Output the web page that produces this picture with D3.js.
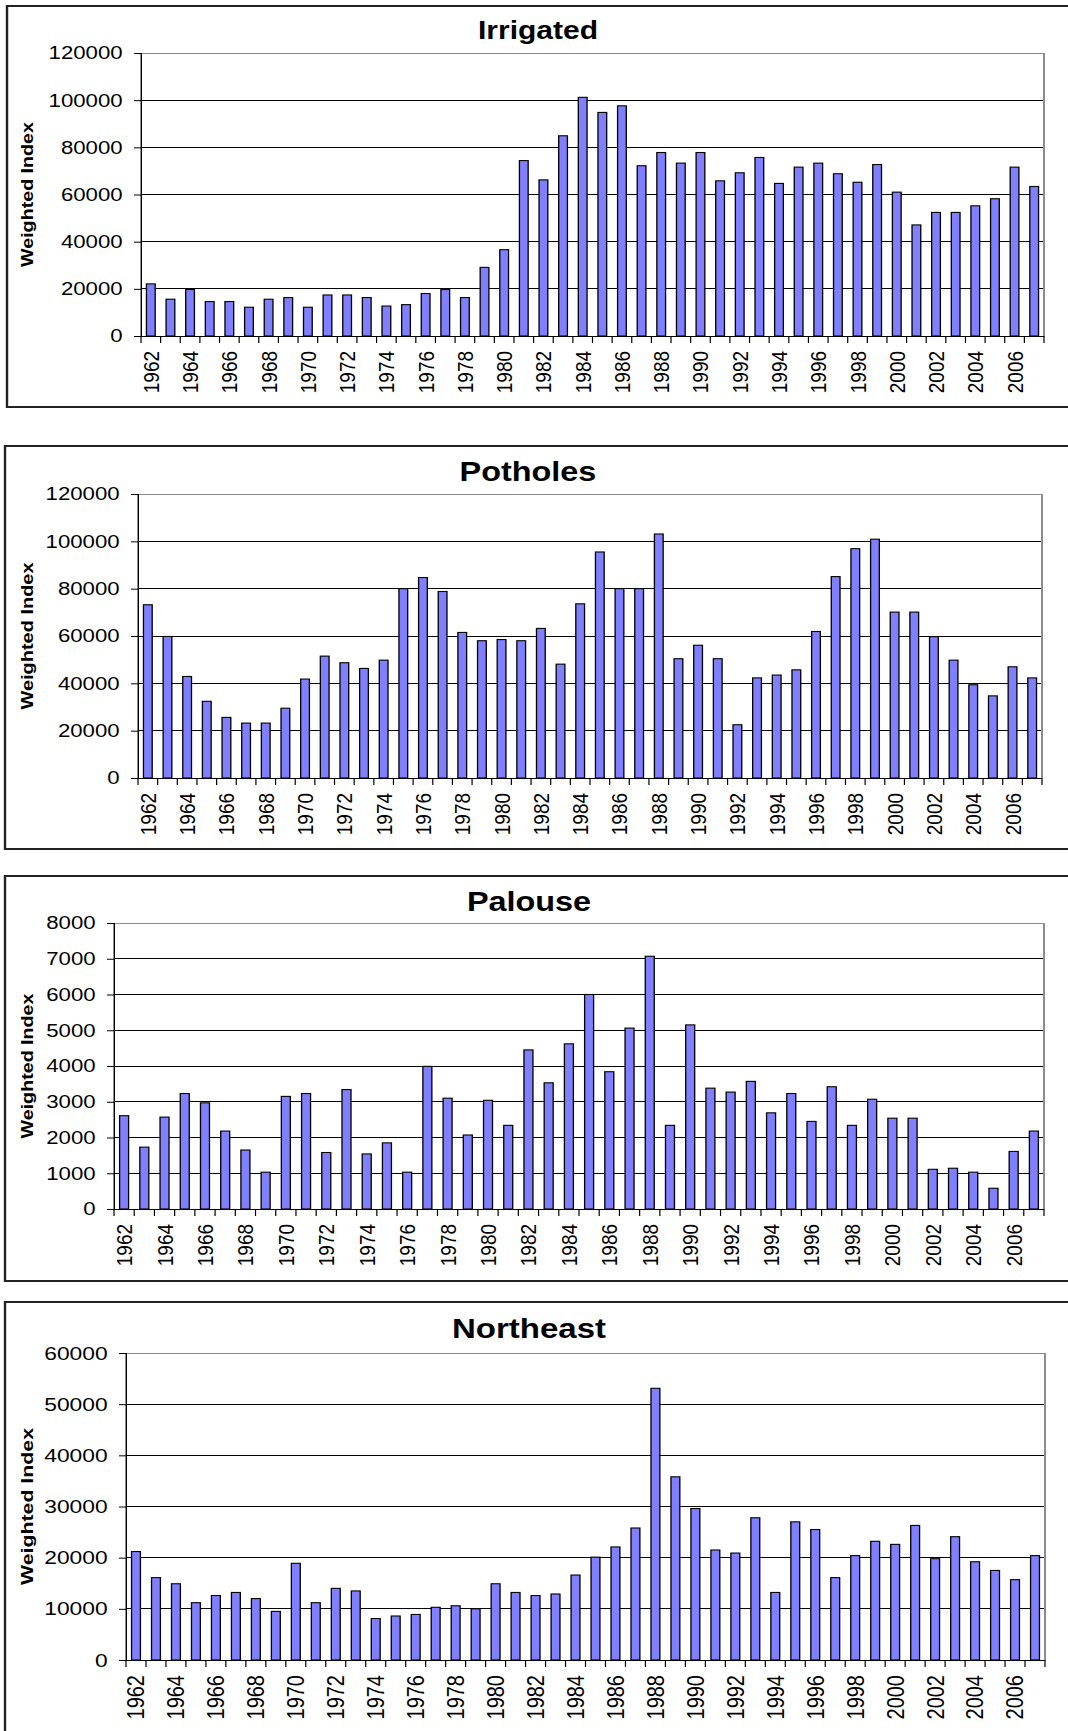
<!DOCTYPE html>
<html>
<head>
<meta charset="utf-8">
<script src="https://cdn.jsdelivr.net/npm/d3@7"></script>
<style>
  body { margin: 0; background: #fff; }
  svg { display: block; }
  text { font-family: "Liberation Sans", Arial, sans-serif; fill: #000; }
</style>
</head>
<body>
<div id="chart"></div>
<script>
/**
 * DATA
 * */
const years = ["1962","1963","1964","1965","1966","1967","1968","1969","1970","1971",
  "1972","1973","1974","1975","1976","1977","1978","1979","1980","1981",
  "1982","1983","1984","1985","1986","1987","1988","1989","1990","1991",
  "1992","1993","1994","1995","1996","1997","1998","1999","2000","2001",
  "2002","2003","2004","2005","2006","2007"];

const irrigated = [22100,15600,19700,14600,14600,12200,15600,16300,12200,17400,
  17400,16300,12700,13300,18000,19700,16300,29100,36600,74400,
  66200,84900,101200,94800,97600,72200,77800,73300,77800,65800,
  69200,75700,64700,71600,73300,68800,65200,72700,61000,47100,
  52400,52400,55200,58200,71600,63400];

const potholes = [73200,59800,42900,32400,25600,23200,23200,29500,41800,51500,
  48700,46300,49800,80000,84700,78800,61500,58000,58500,58000,
  63200,48100,73600,95500,80000,80000,103100,50400,56100,50400,
  22500,42300,43500,45700,61900,85100,96900,100900,70100,70100,
  59700,49800,39400,34700,47000,42300];

const palouse = [2610,1730,2570,3230,2970,2180,1650,1030,3150,3230,
  1580,3340,1540,1850,1030,3990,3100,2070,3040,2340,
  4450,3530,4620,6000,3840,5060,7070,2340,5150,3380,
  3270,3570,2690,3230,2450,3420,2340,3070,2540,2540,
  1110,1140,1030,580,1610,2180];

const northeast = [21200,16100,14900,11200,12600,13200,12000,9500,18900,11200,
  14000,13500,8100,8600,8900,10300,10600,10000,14900,13200,
  12600,12900,16600,20100,22100,25800,53100,35800,29600,21500,
  20900,27800,13200,27000,25500,16100,20400,23200,22600,26300,
  19800,24100,19200,17500,15700,20400];

const ticks120k = [0,20000,40000,60000,80000,100000,120000];
const ticks8k = [0,1000,2000,3000,4000,5000,6000,7000,8000];
const ticks60k = [0,10000,20000,30000,40000,50000,60000];

/**
 * LAYOUT (page pixels; the original picture is stretched 1.2x sideways)
 * */
const W = 1068, H = 1731, SX = 1.2;

const panels = [
  { title: "Irrigated", values: irrigated, ticks: ticks120k,
    frame: [7, 6, 1080, 407], plot: [141, 1044, 53, 336],
    titleX: 538, titleY: 39, titleSize: 25, tickSize: 18.5, yearSize: 19, labelLen: 145 },
  { title: "Potholes", values: potholes, ticks: ticks120k,
    frame: [5, 446, 1080, 849], plot: [138, 1042, 494, 778],
    titleX: 528, titleY: 481, titleSize: 27, tickSize: 18.5, yearSize: 19, labelLen: 147 },
  { title: "Palouse", values: palouse, ticks: ticks8k,
    frame: [5, 876, 1080, 1281], plot: [114, 1044, 923, 1209],
    titleX: 529, titleY: 911, titleSize: 27, tickSize: 18.5, yearSize: 19, labelLen: 145 },
  { title: "Northeast", values: northeast, ticks: ticks60k,
    frame: [5, 1302, 1080, 1760], plot: [126, 1045, 1353, 1660],
    titleX: 529, titleY: 1338, titleSize: 27.5, tickSize: 19, yearSize: 20, labelLen: 157 }
];

const svg = d3.select("#chart")
  .append("svg")
  .attr("width", W)
  .attr("height", H)
  .attr("viewBox", `0 0 ${W / SX} ${H}`)
  .attr("preserveAspectRatio", "none");

panels.forEach(drawPanel);

function drawPanel(p) {
  const g = svg.append("g");

  // outer chart frame
  g.append("rect")
    .attr("x", p.frame[0] / SX)
    .attr("y", p.frame[1])
    .attr("width", (p.frame[2] - p.frame[0]) / SX)
    .attr("height", p.frame[3] - p.frame[1])
    .attr("fill", "#fff")
    .attr("stroke", "#222")
    .attr("stroke-width", 2);

  const x0 = p.plot[0] / SX, x1 = p.plot[1] / SX, y0 = p.plot[2], y1 = p.plot[3];

  // bars sit centred in each category (Excel gap width 125%)
  const x = d3.scaleBand().domain(years).range([x0, x1])
    .paddingInner(5 / 9).paddingOuter(5 / 18);
  const xCat = d3.scaleBand().domain(years).range([x0, x1]);
  const y = d3.scaleLinear().domain([0, d3.max(p.ticks)]).range([y1, y0]);

  // gridlines
  g.selectAll(".grid")
    .data(p.ticks.slice(1, -1))
    .join("line")
    .attr("x1", x0).attr("x2", x1)
    .attr("y1", d => y(d)).attr("y2", d => y(d))
    .attr("stroke", "#000")
    .attr("stroke-width", 1)
    .attr("shape-rendering", "crispEdges");

  // plot area border
  g.append("rect")
    .attr("x", x0).attr("y", y0)
    .attr("width", x1 - x0).attr("height", y1 - y0)
    .attr("fill", "none")
    .attr("stroke", "#8c8c8c")
    .attr("stroke-width", 1)
    .attr("shape-rendering", "crispEdges");

  // bars
  g.selectAll(".bar")
    .data(p.values)
    .join("rect")
    .attr("x", (d, i) => x(years[i]))
    .attr("width", x.bandwidth())
    .attr("y", d => y(d))
    .attr("height", d => y1 - y(d))
    .attr("fill", "#8080ff")
    .attr("stroke", "#000")
    .attr("stroke-width", 1.1);

  // y axis
  const yAxis = g.append("g")
    .attr("transform", `translate(${x0},0)`)
    .call(d3.axisLeft(y)
      .tickValues(p.ticks)
      .tickSize(7 / SX)
      .tickPadding(9.5)
      .tickFormat(d3.format("d")));
  yAxis.select(".domain").attr("stroke", "#000").attr("shape-rendering", "crispEdges");
  yAxis.selectAll(".tick line").attr("stroke", "#000");
  yAxis.selectAll("text")
    .attr("font-size", p.tickSize)
    .attr("font-family", '"Liberation Sans", Arial, sans-serif')
    .attr("fill", "#000");

  // x axis line and category boundary ticks
  g.append("line")
    .attr("x1", x0).attr("x2", x1)
    .attr("y1", y1).attr("y2", y1)
    .attr("stroke", "#000")
    .attr("shape-rendering", "crispEdges");

  g.selectAll(".xtick")
    .data(years.concat(["end"]))
    .join("line")
    .attr("x1", d => d === "end" ? x1 : xCat(d))
    .attr("x2", d => d === "end" ? x1 : xCat(d))
    .attr("y1", y1).attr("y2", y1 + 7)
    .attr("stroke", "#000");

  // year labels, every second year
  g.selectAll(".year")
    .data(years.filter((d, i) => i % 2 === 0))
    .join("text")
    .attr("transform", d => `translate(${xCat(d) + xCat.bandwidth() / 2},${y1 + 15}) rotate(-90)`)
    .attr("text-anchor", "end")
    .attr("dy", "0.35em")
    .attr("font-size", p.yearSize)
    .text(d => d);

  // title
  g.append("text")
    .attr("x", p.titleX / SX)
    .attr("y", p.titleY)
    .attr("text-anchor", "middle")
    .attr("font-weight", "bold")
    .attr("font-size", p.titleSize)
    .text(p.title);

  // y axis title
  g.append("text")
    .attr("transform", `translate(${27 / SX},${(y0 + y1) / 2}) rotate(-90)`)
    .attr("text-anchor", "middle")
    .attr("dy", "0.35em")
    .attr("font-weight", "bold")
    .attr("font-size", 14)
    .attr("textLength", p.labelLen)
    .attr("lengthAdjust", "spacingAndGlyphs")
    .text("Weighted Index");
}
</script>
</body>
</html>
